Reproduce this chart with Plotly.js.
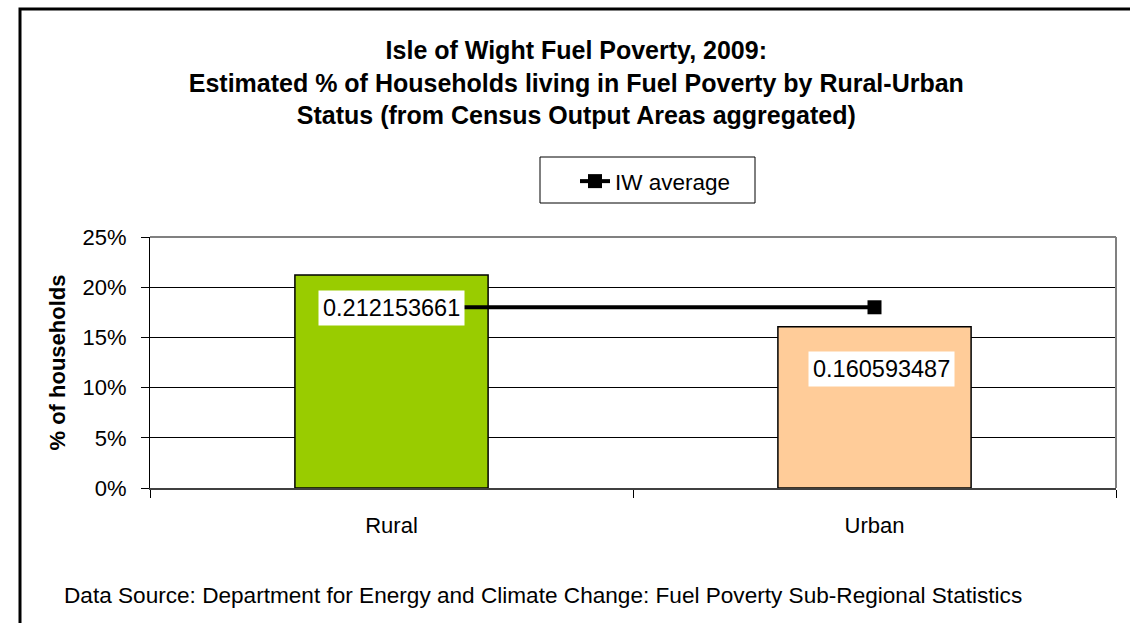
<!DOCTYPE html>
<html>
<head>
<meta charset="utf-8">
<script src="https://cdn.plot.ly/plotly-3.0.1.min.js"></script>
<style>html,body{margin:0;padding:0;background:#fff;}#chart{width:1130px;height:623px;}</style>
</head>
<body>
<div id="chart"></div>
<script>
const categories = ["Rural", "Urban"];
const fuelPovertyShare = [0.212153661, 0.160593487];
const iwAverage = [0.18, 0.18];
const barColors = ["#99CC00", "#FFCC99"];
const yTickValues = [0, 0.05, 0.10, 0.15, 0.20, 0.25];

const FONT = "Arial, 'Liberation Sans', sans-serif";

const bars = {
  type: "bar",
  x: categories,
  y: fuelPovertyShare,
  width: 0.4,
  marker: { color: barColors, line: { color: "#000000", width: 1.5 } },
  showlegend: false,
  hoverinfo: "x+y"
};

const avgLine = {
  type: "scatter",
  mode: "lines+markers",
  name: "IW average",
  x: categories,
  y: iwAverage,
  line: { color: "#000000", width: 4 },
  marker: { symbol: "square", size: 14, color: "#000000" },
  showlegend: true
};

const labelShift = [{ y: -15, x: 0 }, { y: -24, x: 7 }];
const labelAnnotations = categories.map((c, i) => ({
  x: c, y: fuelPovertyShare[i], xref: "x", yref: "y",
  text: String(fuelPovertyShare[i]),
  showarrow: false, yanchor: "top",
  yshift: labelShift[i].y, xshift: labelShift[i].x,
  bgcolor: "#ffffff", borderpad: 4,
  font: { family: FONT, size: 23.5, color: "#000000" }
}));

const layout = {
  width: 1130, height: 623,
  margin: { l: 150, r: 14, t: 237, b: 135 },
  paper_bgcolor: "#ffffff", plot_bgcolor: "#ffffff",
  font: { family: FONT, size: 22, color: "#000000" },
  title: {
    text: "<b>Isle of Wight Fuel Poverty, 2009:<br>Estimated % of Households living in Fuel Poverty by Rural-Urban<br>Status (from Census Output Areas aggregated)</b>",
    font: { family: FONT, size: 25, color: "#000000" },
    x: 0.51, xanchor: "center", y: 0.905, yanchor: "top"
  },
  xaxis: {
    type: "category",
    tickson: "boundaries",
    ticks: "outside", ticklen: 8, tickcolor: "#000000", tickwidth: 1,
    showline: true, linecolor: "#404040", linewidth: 2,
    showgrid: false, zeroline: false,
    ticklabelstandoff: 17,
    tickfont: { family: FONT, size: 22, color: "#000000" }
  },
  yaxis: {
    range: [0, 0.25],
    tickvals: yTickValues,
    tickformat: ".0%",
    ticks: "outside", ticklen: 8, tickcolor: "#000000", tickwidth: 1,
    showline: true, linecolor: "#000000", linewidth: 1,
    showgrid: true, gridcolor: "#000000", gridwidth: 1,
    zeroline: false,
    ticklabelstandoff: 10,
    tickfont: { family: FONT, size: 22, color: "#000000" },
    title: { text: "<b>% of households</b>", font: { family: FONT, size: 22, color: "#000000" }, standoff: 10 }
  },
  legend: {
    x: (575 - 150) / 966, xanchor: "left", y: (488 - 160) / 251, yanchor: "top",
    borderwidth: 0, bgcolor: "rgba(0,0,0,0)",
    font: { family: FONT, size: 22.5, color: "#000000" }
  },
  shapes: [
    { type: "line", xref: "paper", yref: "paper", x0: 0, x1: 1, y0: 1, y1: 1, line: { color: "#808080", width: 2 }, layer: "above" },
    { type: "line", xref: "paper", yref: "paper", x0: 1, x1: 1, y0: 0, y1: 1, line: { color: "#808080", width: 2 }, layer: "above" },
    { type: "rect", xref: "paper", yref: "paper", x0: (540 - 150) / 966, x1: (755 - 150) / 966, y0: (488 - 203) / 251, y1: (488 - 157) / 251, line: { color: "#000000", width: 1 }, fillcolor: "rgba(0,0,0,0)", layer: "below" },
    { type: "rect", xref: "paper", yref: "paper", x0: -130 / 966, x1: 1.2, y0: -1.0, y1: (488 - 9) / 251, line: { color: "#000000", width: 3 }, fillcolor: "rgba(0,0,0,0)", layer: "below" }
  ],
  annotations: labelAnnotations.concat([{
    xref: "paper", yref: "paper", x: (543 - 150) / 966, y: -(595 - 488) / 251,
    xanchor: "center", yanchor: "middle", showarrow: false,
    text: "Data Source: Department for Energy and Climate Change: Fuel Poverty Sub-Regional Statistics",
    font: { family: FONT, size: 22.6, color: "#000000" }
  }])
};

Plotly.newPlot("chart", [bars, avgLine], layout, { displayModeBar: false, staticPlot: true });
</script>
</body>
</html>
